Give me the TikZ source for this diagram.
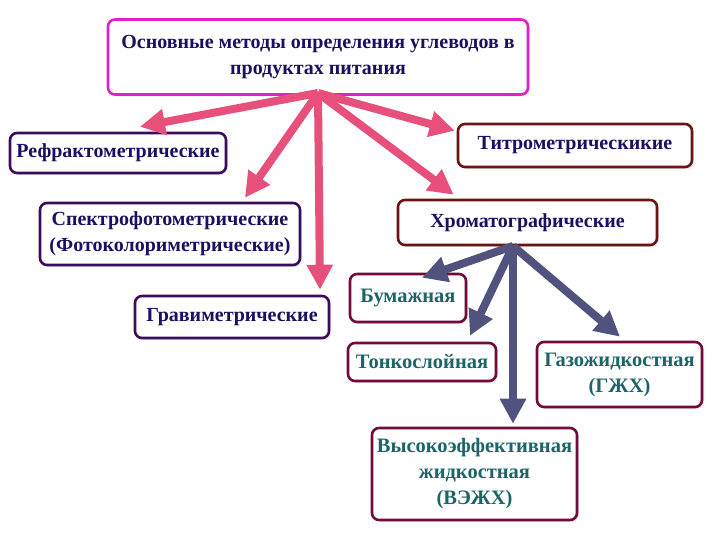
\documentclass[tikz,border=0pt]{standalone}
\usepackage{fontspec}
\setmainfont{Liberation Serif}
\usetikzlibrary{arrows.meta,calc,shadows}
\definecolor{magB}{HTML}{E020C8}
\definecolor{purB}{HTML}{3C0C5C}
\definecolor{marB}{HTML}{6A1414}
\definecolor{winB}{HTML}{720A3A}
\definecolor{navyT}{HTML}{1A1060}
\definecolor{tealT}{HTML}{1C6468}
\definecolor{pinkA}{HTML}{E8507C}
\definecolor{blueA}{HTML}{52527E}
\begin{document}
\begin{tikzpicture}[x=1pt,y=-1pt,
  box/.style={draw, rounded corners=7pt, line width=2.6pt, fill=white, inner sep=1pt, align=center,
    drop shadow={opacity=0.2, shadow xshift=2pt, shadow yshift=-2pt}},
  topbox/.style={box, draw=purB, text=navyT, font=\bfseries\fontsize{20}{26}\selectfont},
  chbox/.style={box, draw=winB, text=tealT, font=\bfseries\fontsize{20.5}{26}\selectfont},
  pinkarrow/.style={draw=pinkA, line width=8pt, -{Triangle[width=25pt,length=25pt]}, fill=pinkA},
  bluearrow/.style={draw=blueA, line width=8pt, -{Triangle[width=25pt,length=25pt]}, fill=blueA}]
\useasboundingbox (0,0) rectangle (720,540);
\node[box, draw=magB, text=navyT, font=\bfseries\fontsize{20}{26}\selectfont,
  minimum width=420pt, minimum height=75pt] (title) at (318,57)
  {Основные методы определения углеводов в\\ продуктах питания};
\node[topbox, minimum width=216pt, minimum height=40pt] (refr) at (118,153) {Рефрактометрические};
\node[topbox, draw=marB, minimum width=234pt, minimum height=43pt] (titr) at (575,145.5) {Титрометрическикие};
\node[topbox, minimum width=260pt, minimum height=62pt] (spec) at (170,234) {Спектрофотометрические\\(Фотоколориметрические)};
\node[topbox, draw=marB, minimum width=259pt, minimum height=45pt] (chrom) at (527.5,222.5) {Хроматографические};
\node[topbox, minimum width=194pt, minimum height=42pt] (grav) at (232,317) {Гравиметрические};
\node[chbox, minimum width=116pt, minimum height=48pt] (bum) at (408,298) {Бумажная};
\node[chbox, minimum width=148pt, minimum height=38pt] (tonk) at (422,362) {Тонкослойная};
\node[chbox, minimum width=165pt, minimum height=65pt] (gzh) at (619.5,374.5) {Газожидкостная\\(ГЖХ)};
\node[chbox, minimum width=205pt, minimum height=92pt] (vezh) at (474.5,474) {Высокоэффективная\\жидкостная\\(ВЭЖХ)};
\coordinate (hub) at (318,93);
\coordinate (chub) at (513,246);
\draw[pinkarrow] (hub) -- ($(refr.north)+(22,-5)$);
\draw[pinkarrow] (hub) -- ($(spec.north)+(75,-4)$);
\draw[pinkarrow] (hub) -- ($(grav.north)+(88,-5)$);
\draw[pinkarrow] (hub) -- ($(titr.north west)+(-2,8)$);
\draw[pinkarrow] (hub) -- ($(chrom.north west)+(57,-4)$);
\draw[bluearrow] (chub) -- ($(bum.north)+(14,5)$);
\draw[bluearrow] (chub) -- ($(tonk.north)+(48,-6)$);
\draw[bluearrow] (chub) -- ($(vezh.north)+(38.5,-3)$);
\draw[bluearrow] (chub) -- ($(gzh.north)+(0.5,-4)$);
\end{tikzpicture}
\end{document}
